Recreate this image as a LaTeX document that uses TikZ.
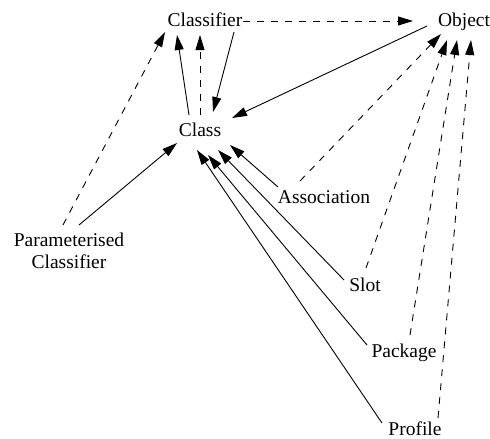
\documentclass[tikz,border=0pt]{standalone}
\usepackage{fontspec}
\setmainfont{Liberation Serif}
\usetikzlibrary{arrows.meta}
\begin{document}
\begin{tikzpicture}[x=1pt,y=-1pt,
  lbl/.style={inner sep=0pt,font=\fontsize{19.5}{22}\selectfont},
  edge/.style={line width=0.9pt,-{Triangle[length=15pt,width=9pt]}},
  dedge/.style={edge,dash pattern=on 7pt off 7pt}]
\useasboundingbox (0,0) rectangle (490,439);
\node[lbl,anchor=base] (clsf) at (205,27) {Classifier};
\node[lbl,anchor=base] (obj) at (464,26) {Object};
\node[lbl,anchor=base] (cls) at (200,136) {Class};
\node[lbl,anchor=base] (assoc) at (324,203) {Association};
\node[lbl,anchor=base] (slot) at (365,291) {Slot};
\node[lbl,anchor=base] (pkg) at (404,357) {Package};
\node[lbl,anchor=base] (prof) at (415,435) {Profile};
\node[lbl,align=center] (param) at (69,251) {Parameterised\\Classifier};
% edges
\draw[dedge] ([shift={(38,-6)}]clsf.base) -- ([shift={(-51,-5)}]obj.base);
\draw[edge] ([shift={(-37,0)}]obj.base) -- ([shift={(32,-18)}]cls.base);
\draw[edge] ([shift={(-11,-21)}]cls.base) -- ([shift={(-28,8)}]clsf.base);
\draw[dedge] ([shift={(0,-21)}]cls.base) -- ([shift={(-5,8)}]clsf.base);
\draw[edge] ([shift={(29,5)}]clsf.base) -- ([shift={(13,-24)}]cls.base);
\draw[dedge] ([shift={(-6,-26)}]param.center) -- ([shift={(-40,5)}]clsf.base);
\draw[edge] ([shift={(10,-26)}]param.center) -- ([shift={(-23,7)}]cls.base);
\draw[edge] ([shift={(-46,-16)}]assoc.base) -- ([shift={(30,9)}]cls.base);
\draw[edge] ([shift={(-21,-11)}]slot.base) -- ([shift={(18,14)}]cls.base);
\draw[edge] ([shift={(-37,-12)}]pkg.base) -- ([shift={(8,19)}]cls.base);
\draw[edge] ([shift={(-33,-12)}]prof.base) -- ([shift={(-3,14)}]cls.base);
\draw[dedge] ([shift={(-24,-22)}]assoc.base) -- ([shift={(-23,8)}]obj.base);
\draw[dedge] ([shift={(1,-23)}]slot.base) -- ([shift={(-17,14)}]obj.base);
\draw[dedge] ([shift={(6,-22)}]pkg.base) -- ([shift={(-7,14)}]obj.base);
\draw[dedge] ([shift={(23,-17)}]prof.base) -- ([shift={(7,14)}]obj.base);
\end{tikzpicture}
\end{document}
